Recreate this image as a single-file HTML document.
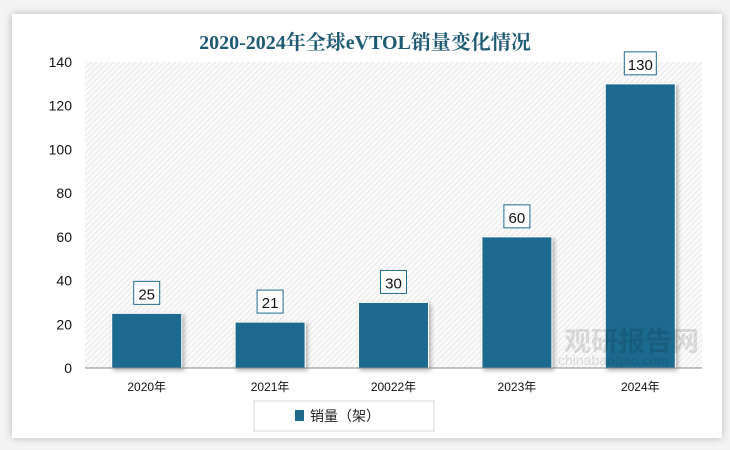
<!DOCTYPE html>
<html><head><meta charset="utf-8"><style>
body{margin:0;width:730px;height:450px;background:#f4f4f4;font-family:"Liberation Sans","Noto Sans CJK SC",sans-serif;overflow:hidden}
#card{position:absolute;left:12px;top:14px;width:710px;height:424px;background:#fff;box-shadow:0 0 8px rgba(0,0,0,0.25)}
</style></head><body>
<div id="card"></div>
<svg id="chart" width="730" height="450" style="position:absolute;left:0;top:0">
<defs>
<pattern id="hatch" width="4" height="4" patternUnits="userSpaceOnUse" patternTransform="rotate(45)">
<rect width="4" height="4" fill="#fafafa"/><line x1="0" y1="0" x2="0" y2="4" stroke="#d9d9d9" stroke-width="1"/>
</pattern>
<filter id="sh" x="-20%" y="-20%" width="140%" height="140%"><feDropShadow dx="2" dy="2" stdDeviation="2" flood-color="#000" flood-opacity="0.3"/></filter>
</defs>
<text x="365" y="49" text-anchor="middle" font-size="20" font-weight="bold" fill="#1f5a74" font-family="'Liberation Serif','Noto Serif CJK SC',serif">2020-2024年全球eVTOL销量变化情况</text>
<rect x="85" y="62" width="617" height="306" fill="url(#hatch)"/>
<g id="g"></g>
<text x="564" y="351" font-size="27" font-weight="bold" fill="#000" fill-opacity="0.12">观研报告网</text>
<text x="558" y="365" font-size="14" fill="#000" fill-opacity="0.12">chinabaogao.com</text>
<line x1="85" y1="368" x2="702" y2="368" stroke="#888" stroke-width="1"/>
<rect x="254" y="401" width="180" height="30" fill="#fff" stroke="#d9d9d9"/>
<rect x="295" y="410" width="9" height="11" fill="#1e6b8f"/>
<text x="310" y="421" font-size="14" fill="#222">销量（架）</text>
</svg>
<script>
const categories=["2020年","2021年","20022年","2023年","2024年"];
const values=[25,21,30,60,130];
const yTicks=[0,20,40,60,80,100,120,140];
const x0=85,x1=702,y0=368,y1=62,yMax=140;
const ns="http://www.w3.org/2000/svg";
const g=document.getElementById("g");
const band=(x1-x0)/categories.length;
const xc=i=>x0+band*(i+0.5);
const ys=v=>y0-(v/yMax)*(y0-y1);
function mk(t,a){const e=document.createElementNS(ns,t);for(const k in a)e.setAttribute(k,a[k]);g.appendChild(e);return e;}
yTicks.forEach(v=>{const t=mk("text",{x:72,y:ys(v)+5,"text-anchor":"end","font-size":14,fill:"#111"});t.textContent=v;

});
categories.forEach((c,i)=>{
const t=mk("text",{x:xc(i),y:391,"text-anchor":"middle","font-size":12,fill:"#111"});t.textContent=c;


const b=mk("rect",{x:xc(i)-35,y:ys(values[i]),width:70,height:y0-ys(values[i]),fill:"#1e6b8f",stroke:"#fff","stroke-width":1,filter:"url(#sh)"});


const w=String(values[i]).length>2?32:26;
const bx=mk("rect",{x:xc(i)-w/2,y:ys(values[i])-32,width:w,height:23,fill:"#fff",stroke:"#1e6b8f","stroke-width":1});


const l=mk("text",{x:xc(i),y:ys(values[i])-14,"text-anchor":"middle","font-size":15,fill:"#111"});l.textContent=values[i];


});
</script>
</body></html>
